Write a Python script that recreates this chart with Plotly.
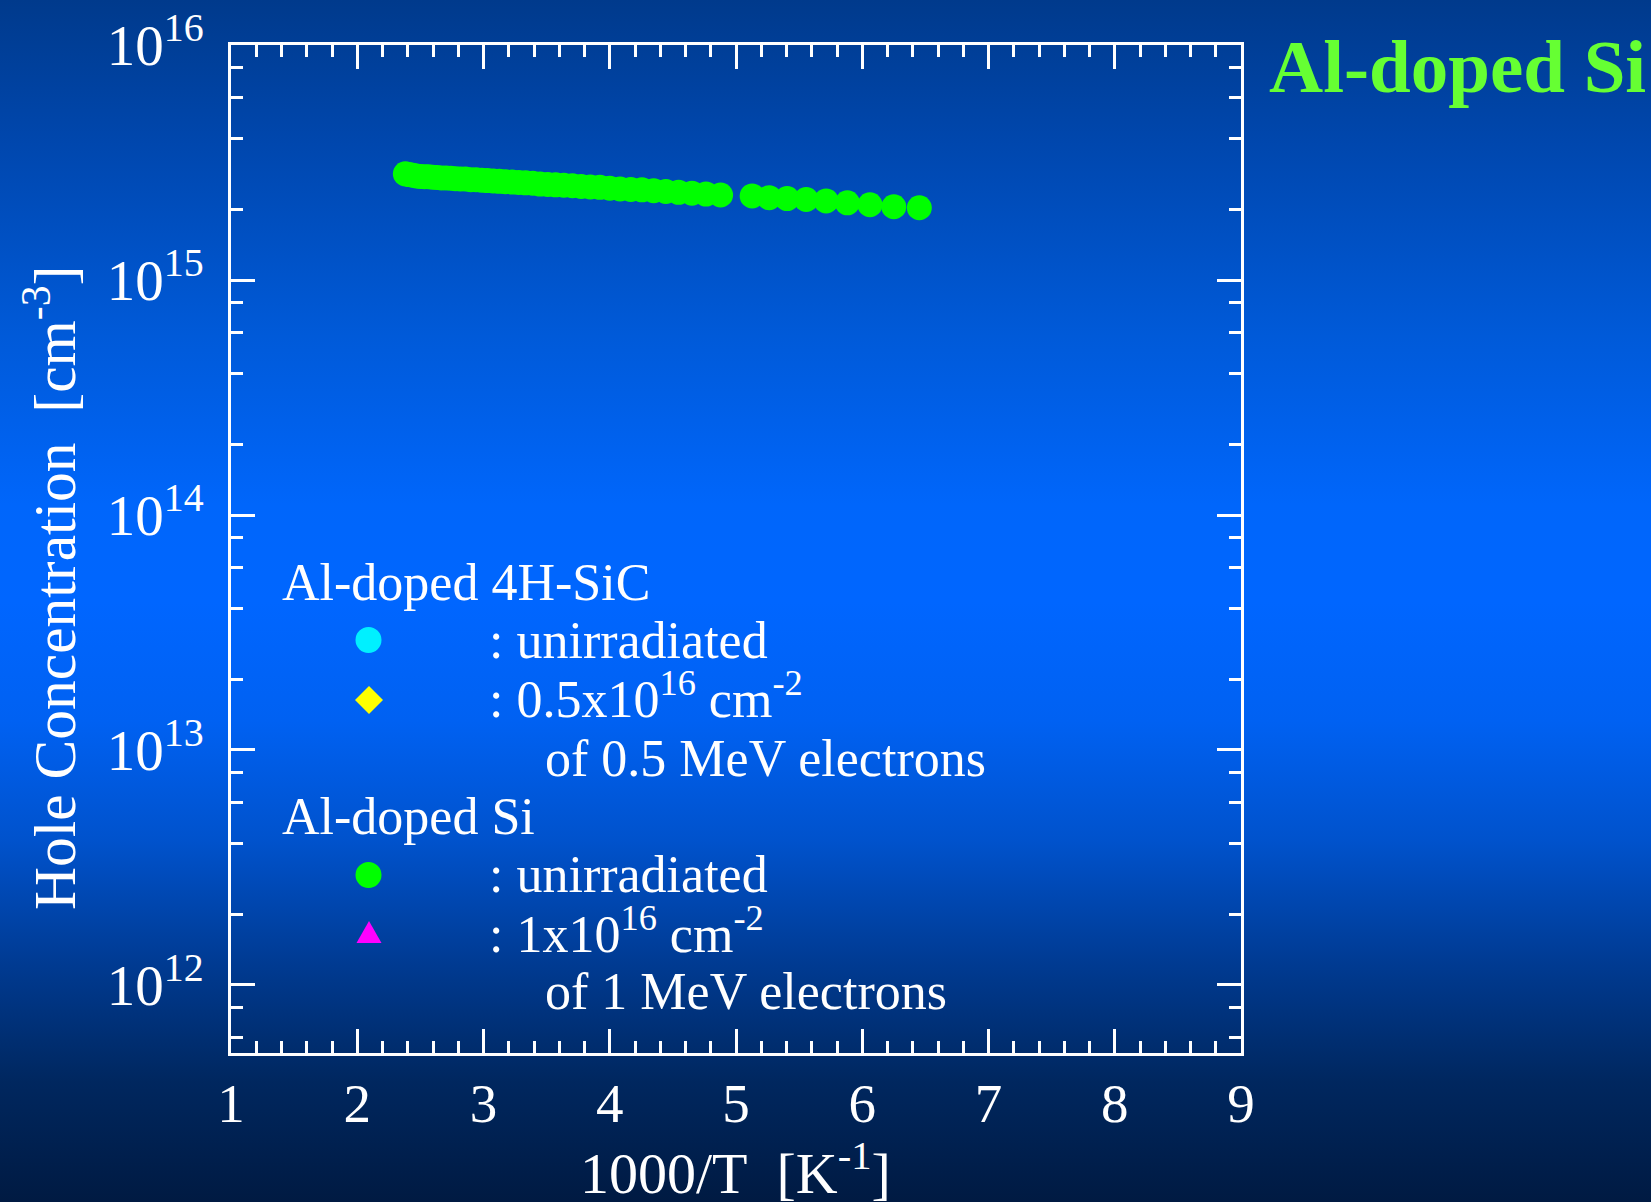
import base64
import plotly.graph_objects as go

# Unirradiated Al-doped Si: hole concentration vs 1000/T
inv_temp_si = [2.381, 2.410, 2.439, 2.469, 2.500, 2.532, 2.564, 2.597, 2.632, 2.667,
               2.703, 2.740, 2.778, 2.817, 2.857, 2.899, 2.941, 2.985, 3.030, 3.077,
               3.125, 3.175, 3.226, 3.279, 3.333, 3.390, 3.448, 3.509, 3.571, 3.636,
               3.704, 3.774, 3.846, 3.922, 4.000, 4.082, 4.167, 4.255, 4.348, 4.444,
               4.545, 4.651, 4.762, 4.878,
               5.128, 5.263, 5.405, 5.556, 5.714, 5.882, 6.061, 6.250, 6.452]
hole_conc_si = [2.83e15, 2.81e15, 2.79e15, 2.77e15, 2.76e15, 2.75e15, 2.75e15, 2.74e15, 2.73e15, 2.72e15,
                2.72e15, 2.71e15, 2.70e15, 2.69e15, 2.69e15, 2.67e15, 2.67e15, 2.66e15, 2.65e15, 2.64e15,
                2.63e15, 2.62e15, 2.61e15, 2.60e15, 2.59e15, 2.58e15, 2.56e15, 2.55e15, 2.54e15, 2.53e15,
                2.52e15, 2.50e15, 2.49e15, 2.48e15, 2.46e15, 2.44e15, 2.43e15, 2.42e15, 2.40e15, 2.38e15,
                2.36e15, 2.34e15, 2.32e15, 2.30e15,
                2.28e15, 2.24e15, 2.22e15, 2.20e15, 2.17e15, 2.13e15, 2.09e15, 2.05e15, 2.03e15]

x_tick_vals = [1, 2, 3, 4, 5, 6, 7, 8, 9]
y_tick_vals = [1e12, 1e13, 1e14, 1e15, 1e16]
y_tick_text = ["10<sup>12</sup>", "10<sup>13</sup>", "10<sup>14</sup>", "10<sup>15</sup>", "10<sup>16</sup>"]
y_minor_vals = [m * 10.0 ** d for d in range(11, 16) for m in (2, 4, 6, 8)]

# Figure geometry (pixels)
W, H = 1651, 1202
ML, MR, MT, MB = 231, 410, 45, 149
PW, PH = W - ML - MR, H - MT - MB
SERIF = "Liberation Serif, Times New Roman, serif"


def px_x(px):
    return (px - ML) / PW


def px_y(py):
    return (MT + PH - py) / PH


# Vertical blue gradient backdrop (with a little overscan on every side)
PAD = 20
stops = [(0.00, "#003a8c"), (0.12, "#0047ae"), (0.28, "#005ad9"), (0.42, "#0066fb"),
         (0.50, "#0066ff"), (0.60, "#0061f2"), (0.70, "#0052cc"), (0.80, "#003b93"),
         (0.90, "#00275f"), (1.00, "#001a42")]
stop_xml = "".join(
    f'<stop offset="{(PAD + o * H) / (H + 2 * PAD):.4f}" stop-color="{c}"/>' for o, c in stops)
BW, BH = W + 2 * PAD, H + 2 * PAD
svg = (f'<svg xmlns="http://www.w3.org/2000/svg" width="{BW}" height="{BH}" '
       f'viewBox="0 0 {BW} {BH}" preserveAspectRatio="none">'
       f'<defs><linearGradient id="g" x1="0" y1="0" x2="0" y2="1">{stop_xml}</linearGradient></defs>'
       f'<rect width="{BW}" height="{BH}" fill="url(#g)"/></svg>')
bg_src = "data:image/svg+xml;base64," + base64.b64encode(svg.encode()).decode()

fig = go.Figure()
fig.add_trace(go.Scatter(
    x=inv_temp_si, y=hole_conc_si, mode="markers",
    marker=dict(color="#00ff00", size=25, line=dict(width=0)),
    showlegend=False, hoverinfo="skip",
))

axis_common = dict(
    showline=True, linecolor="white", linewidth=3, mirror="allticks",
    ticks="inside", tickcolor="white", tickwidth=3, ticklen=24,
    showgrid=False, zeroline=False, automargin=False,
)

fig.update_xaxes(
    range=[1, 9], tickmode="array", tickvals=x_tick_vals,
    minor=dict(dtick=0.2, ticks="inside", ticklen=12, tickwidth=3, tickcolor="white", showgrid=False),
    ticklabelstandoff=0,
    tickfont=dict(family=SERIF, size=55, color="white"),
    **axis_common,
)
fig.update_yaxes(
    type="log", range=[11.7106, 16], tickmode="array",
    tickvals=y_tick_vals, ticktext=y_tick_text,
    minor=dict(tickmode="array", tickvals=y_minor_vals, ticks="inside", ticklen=12,
               tickwidth=3, tickcolor="white", showgrid=False),
    ticklabelstandoff=13,
    tickfont=dict(family=SERIF, size=57, color="white"),
    **axis_common,
)

annotations = []


def add_text(text, left, baseline, size, color="white", bold=False):
    annotations.append(dict(
        text=f"<b>{text}</b>" if bold else text,
        xref="paper", yref="paper", x=px_x(left), y=px_y(baseline + 0.216 * size),
        xanchor="left", yanchor="bottom", showarrow=False, borderpad=0,
        font=dict(family=SERIF, size=size, color=color),
    ))


# Legend text block
LEG = 52
add_text("Al-doped 4H-SiC", 281, 601, LEG)
add_text(": unirradiated", 488, 659, LEG)
add_text(": 0.5x10<sup>16</sup> cm<sup>-2</sup>", 488, 718, LEG)
add_text("of 0.5 MeV electrons", 544, 777, LEG)
add_text("Al-doped Si", 281, 835, LEG)
add_text(": unirradiated", 488, 893, LEG)
add_text(": 1x10<sup>16</sup> cm<sup>-2</sup>", 488, 953, LEG)
add_text("of 1 MeV electrons", 544, 1010, LEG)

# Panel heading
add_text("Al-doped Si", 1268, 93, 75, color="#66ff33", bold=True)

# Axis titles
annotations.append(dict(
    text="1000/T\u00a0\u00a0[K<sup>-1</sup>]", xref="paper", yref="paper",
    x=px_x(735), y=px_y(1194 + 0.216 * 58), xanchor="center", yanchor="bottom",
    showarrow=False, borderpad=0, font=dict(family=SERIF, size=58, color="white"),
))
annotations.append(dict(
    text="Hole Concentration\u00a0\u00a0[cm<sup>-3</sup>]", xref="paper", yref="paper",
    x=px_x(50), y=px_y(588), xanchor="center", yanchor="middle", textangle=-90,
    showarrow=False, borderpad=0, font=dict(family=SERIF, size=59.5, color="white"),
))

# Legend keys
shapes = [
    dict(type="circle", xref="paper", yref="paper", xsizemode="pixel", ysizemode="pixel",
         xanchor=px_x(368.5), yanchor=px_y(640), x0=-13, x1=13, y0=-13, y1=13,
         fillcolor="#00f0ff", line=dict(width=0)),
    dict(type="path", xref="paper", yref="paper", xsizemode="pixel", ysizemode="pixel",
         xanchor=px_x(369), yanchor=px_y(700), path="M0,14 L14,0 L0,-14 L-14,0 Z",
         fillcolor="#ffff00", line=dict(width=0)),
    dict(type="circle", xref="paper", yref="paper", xsizemode="pixel", ysizemode="pixel",
         xanchor=px_x(368.5), yanchor=px_y(875), x0=-13, x1=13, y0=-13, y1=13,
         fillcolor="#00ff00", line=dict(width=0)),
    dict(type="path", xref="paper", yref="paper", xsizemode="pixel", ysizemode="pixel",
         xanchor=px_x(369), yanchor=px_y(932), path="M-12.5,-11 L12.5,-11 L0,11 Z",
         fillcolor="#ff00ff", line=dict(width=0)),
]

fig.update_layout(
    width=W, height=H, autosize=False,
    margin=dict(l=ML, r=MR, t=MT, b=MB, pad=0),
    paper_bgcolor="#003a8c", plot_bgcolor="rgba(0,0,0,0)",
    showlegend=False,
    annotations=annotations, shapes=shapes,
    images=[dict(source=bg_src, xref="paper", yref="paper",
                 x=-(ML + PAD) / PW, y=1 + (MT + PAD) / PH, sizex=BW / PW, sizey=BH / PH,
                 xanchor="left", yanchor="top", sizing="stretch", layer="below")],
)

fig.write_html("out.html")
